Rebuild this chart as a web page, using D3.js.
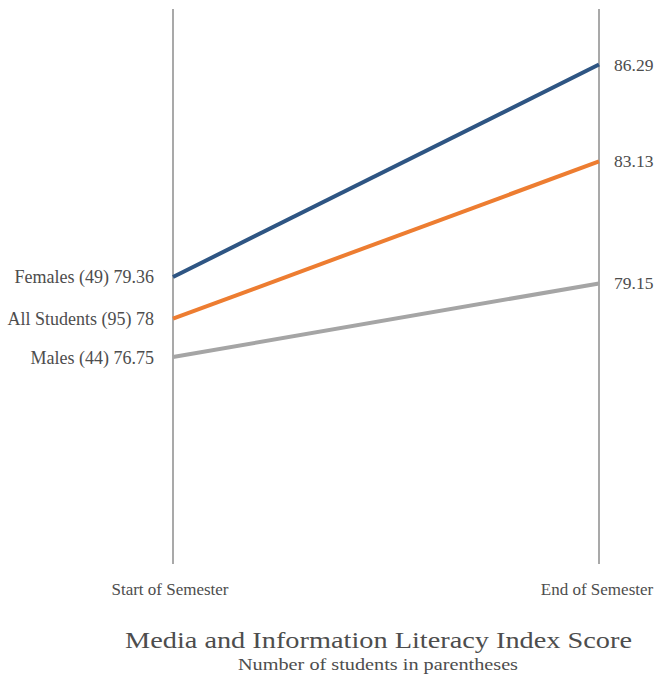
<!DOCTYPE html>
<html>
<head>
<meta charset="utf-8">
<script src="https://cdn.jsdelivr.net/npm/d3@7"></script>
<style>
  html, body { margin: 0; padding: 0; background: #fff; }
  svg text { font-family: "Liberation Serif", "Times New Roman", serif; fill: #4d4d4d; }
</style>
</head>
<body>
<svg id="chart" width="660" height="680"></svg>
<script>
const periods = ["Start of Semester", "End of Semester"];
const groups = ["Females", "All Students", "Males"];
const counts = [49, 95, 44];
const startValues = [79.36, 78, 76.75];
const endValues = [86.29, 83.13, 79.15];
const startLabels = ["79.36", "78", "76.75"];
const endLabels = ["86.29", "83.13", "79.15"];
const colors = ["#2E5583", "#ED7D31", "#A5A5A5"];
const title = "Media and Information Literacy Index Score";
const subtitle = "Number of students in parentheses";

const svg = d3.select("#chart");

const x = d3.scalePoint().domain(periods).range([173, 599]);
const y = d3.scaleLinear().domain([70, 88.1]).range([564, 9]);

// vertical axis lines
svg.selectAll("line.axis").data(periods).enter().append("line")
  .attr("class", "axis")
  .attr("x1", d => x(d)).attr("x2", d => x(d))
  .attr("y1", y(88.1)).attr("y2", y(70))
  .attr("stroke", "#8c8c8c").attr("stroke-width", 1.5);

// period labels
svg.selectAll("text.period").data(periods).enter().append("text")
  .attr("class", "period")
  .attr("x", (d, i) => x(d) + (i === 0 ? -3 : -2)).attr("y", 595)
  .attr("text-anchor", "middle")
  .attr("font-size", 17)
  .text(d => d);

const series = groups.map((g, i) => ({
  name: g, count: counts[i], start: startValues[i], end: endValues[i],
  sl: startLabels[i], el: endLabels[i], color: colors[i]
}));

// slope lines
svg.selectAll("line.slope").data(series).enter().append("line")
  .attr("class", "slope")
  .attr("x1", x(periods[0])).attr("x2", x(periods[1]))
  .attr("y1", d => y(d.start)).attr("y2", d => y(d.end))
  .attr("stroke", d => d.color).attr("stroke-width", 4);

// left labels
svg.selectAll("text.left").data(series).enter().append("text")
  .attr("class", "left")
  .attr("x", x(periods[0]) - 19)
  .attr("y", d => y(d.start) + 6.5)
  .attr("text-anchor", "end")
  .attr("font-size", 18)
  .text(d => `${d.name} (${d.count}) ${d.sl}`);

// right labels
svg.selectAll("text.right").data(series).enter().append("text")
  .attr("class", "right")
  .attr("x", x(periods[1]) + 15)
  .attr("y", d => y(d.end) + 6)
  .attr("text-anchor", "start")
  .attr("font-size", 17.5)
  .text(d => d.el);

// titles
svg.append("text")
  .attr("x", 378.5).attr("y", 648)
  .attr("text-anchor", "middle")
  .attr("font-size", 23)
  .attr("textLength", 507).attr("lengthAdjust", "spacingAndGlyphs")
  .text(title);

svg.append("text")
  .attr("x", 378).attr("y", 670)
  .attr("text-anchor", "middle")
  .attr("font-size", 17.5)
  .attr("textLength", 280).attr("lengthAdjust", "spacingAndGlyphs")
  .text(subtitle);
</script>
</body>
</html>
